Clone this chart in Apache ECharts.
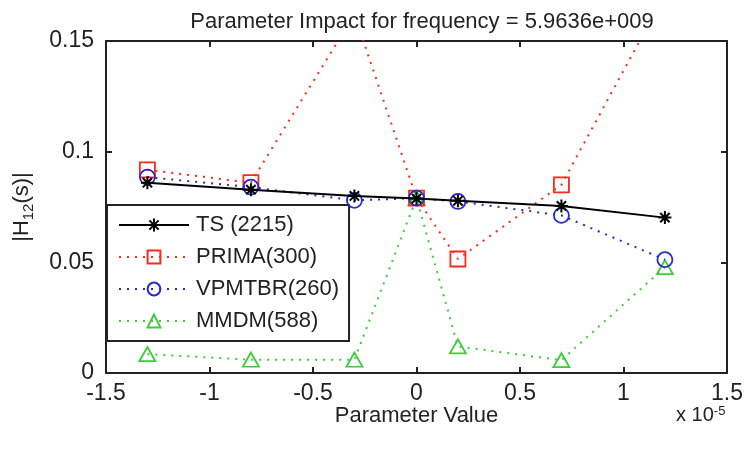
<!DOCTYPE html>
<html>
<head>
<meta charset="utf-8">
<script src="https://cdn.jsdelivr.net/npm/echarts@6/dist/echarts.min.js"></script>
<style>html,body{margin:0;padding:0;background:#fff}#c{width:746px;height:450px}</style>
</head>
<body>
<div id="c"></div>
<script>
// Parameter values in units of 1e-5
const paramValues = [-1.3, -0.8, -0.3, 0, 0.2, 0.7, 1.2];
const tsValues     = [0.0860, 0.0828, 0.0800, 0.0788, 0.0778, 0.0755, 0.0702];
const primaValues  = [0.0918, 0.0860, 0.1620, 0.0790, 0.0515, 0.0850, 0.1710];
const vpmtbrValues = [0.0885, 0.0840, 0.0780, 0.0790, 0.0775, 0.0712, 0.0512];
const mmdmValues   = [0.0085, 0.0060, 0.0060, 0.0790, 0.0120, 0.0058, 0.0478];
const seriesNames  = ['TS (2215)', 'PRIMA(300)', 'VPMTBR(260)', 'MMDM(588)'];
const xTicks = { min: -1.5, max: 1.5, step: 0.5 };
const yTicks = { min: 0, max: 0.15, step: 0.05 };

const pairs = v => paramValues.map((x, i) => [x, v[i]]);
const FONT = 'Liberation Sans';
const RED = '#ff2a1a', BLUE = '#2a2acc', GREEN = '#3ccc3c';

const chart = echarts.init(document.getElementById('c'), null, { renderer: 'canvas' });
const axisLine = { show: true, onZero: false, lineStyle: { color: '#222', width: 2 } };
const axisTick = { show: true, inside: true, length: 6, lineStyle: { color: '#222', width: 2 } };

chart.setOption({
  animation: false,
  backgroundColor: '#fff',
  title: {
    text: 'Parameter Impact for frequency = 5.9636e+009',
    left: 417, top: 6, textAlign: 'center',
    textStyle: { fontFamily: FONT, fontSize: 22, fontWeight: 'normal', color: '#222' }
  },
  grid: { left: 104, right: 15, top: 41, bottom: 77 },
  xAxis: [{
    type: 'value', min: xTicks.min, max: xTicks.max, interval: xTicks.step,
    axisLine, axisTick, splitLine: { show: false },
    axisLabel: { margin: 9, fontFamily: FONT, fontSize: 23, color: '#222' },
    name: 'Parameter Value', nameLocation: 'middle', nameGap: 32, nameMoveOverlap: false,
    nameTextStyle: { fontFamily: FONT, fontSize: 22, color: '#222' }
  }, {
    type: 'value', position: 'top', min: xTicks.min, max: xTicks.max, interval: xTicks.step,
    axisLine, axisTick, splitLine: { show: false }, axisLabel: { show: false }
  }],
  yAxis: [{
    type: 'value', min: yTicks.min, max: yTicks.max, interval: yTicks.step,
    axisLine, axisTick, splitLine: { show: false },
    axisLabel: { margin: 12, fontFamily: FONT, fontSize: 23, color: '#222' },
    name: '|H{sub|12}(s)|', nameLocation: 'middle', nameGap: 70, nameRotate: 90, nameMoveOverlap: false,
    nameTextStyle: {
      fontFamily: FONT, fontSize: 22, color: '#222', lineHeight: 28,
      rich: { sub: { fontFamily: FONT, fontSize: 15, color: '#222', verticalAlign: 'bottom', lineHeight: 18 } }
    }
  }, {
    type: 'value', position: 'right', min: yTicks.min, max: yTicks.max, interval: yTicks.step,
    axisLine, axisTick, splitLine: { show: false }, axisLabel: { show: false }
  }],
  legend: {
    orient: 'vertical', left: 107, top: 205,
    backgroundColor: '#fff', borderColor: '#222', borderWidth: 2,
    padding: [9, 10, 9, 11], itemGap: 10, itemWidth: 70, itemHeight: 16,
    textStyle: { fontFamily: FONT, fontSize: 22, color: '#222', lineHeight: 22, padding: [0, 0, 0, 2] },
    data: seriesNames
  },
  graphic: [{
    type: 'text', left: 676, top: 405,
    style: {
      text: 'x 10{sup|-5}', fontFamily: FONT, fontSize: 20, fill: '#222',
      rich: { sup: { fontFamily: FONT, fontSize: 13, fill: '#222', verticalAlign: 'top', padding: [0, 0, 8, 0] } }
    }
  }],
  series: [{
    name: seriesNames[0], type: 'line', data: pairs(tsValues),
    symbol: 'path://M5,0L5,10M0,5L10,5M1.4,1.4L8.6,8.6M1.4,8.6L8.6,1.4', symbolSize: 13,
    itemStyle: { color: 'rgba(0,0,0,0)', borderColor: '#000', borderWidth: 2 },
    lineStyle: { color: '#000', width: 2, type: 'solid' }, z: 5
  }, {
    name: seriesNames[1], type: 'line', data: pairs(primaValues),
    symbol: 'rect', symbolSize: 15,
    itemStyle: { color: 'rgba(0,0,0,0)', borderColor: RED, borderWidth: 1.8 },
    lineStyle: { color: RED, width: 2, type: [2, 6] }, z: 3
  }, {
    name: seriesNames[2], type: 'line', data: pairs(vpmtbrValues),
    symbol: 'circle', symbolSize: 15,
    itemStyle: { color: 'rgba(0,0,0,0)', borderColor: BLUE, borderWidth: 1.8 },
    lineStyle: { color: BLUE, width: 2, type: [2, 6] }, z: 4
  }, {
    name: seriesNames[3], type: 'line', data: pairs(mmdmValues),
    symbol: 'triangle', symbolSize: [16, 14],
    itemStyle: { color: 'rgba(0,0,0,0)', borderColor: GREEN, borderWidth: 1.8 },
    lineStyle: { color: GREEN, width: 2, type: [2, 6] }, z: 2
  }]
});
</script>
</body>
</html>
